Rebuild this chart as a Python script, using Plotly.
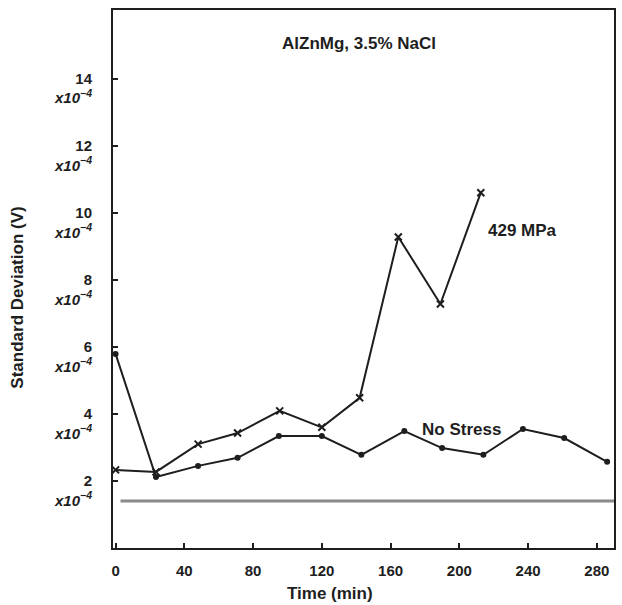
import plotly.graph_objects as go

# Data
t_stress = [0, 23.5, 48, 71, 95.5, 120, 142, 164.5, 189, 212.5]
v_stress = [2.33, 2.27, 3.1, 3.43, 4.09, 3.6, 4.48, 9.28, 7.28, 10.6]

t_none = [0, 23.5, 48, 71, 95, 120, 143, 168, 190, 214, 237, 261, 286]
v_none = [5.79, 2.12, 2.45, 2.69, 3.34, 3.34, 2.78, 3.49, 2.98, 2.78, 3.55, 3.28, 2.57]

x_ticks = [0, 40, 80, 120, 160, 200, 240, 280]
y_ticks = [2, 4, 6, 8, 10, 12, 14]
y_ticktext = [f"&nbsp;<br><b>{v}</b><br><b><i>x10<sup>−4</sup></i></b>" for v in y_ticks]

ref_line_level = 1.40  # grey horizontal band seen in the scan

FONT = "Liberation Sans, Arial, sans-serif"
INK = "#1e1e1e"

fig = go.Figure()

fig.add_trace(go.Scatter(
    x=t_stress, y=v_stress, mode="lines+markers", name="429 MPa",
    line=dict(color=INK, width=2),
    marker=dict(symbol="x-thin", size=7, line=dict(color=INK, width=2), color=INK),
))
fig.add_trace(go.Scatter(
    x=t_none, y=v_none, mode="lines+markers", name="No Stress",
    line=dict(color=INK, width=2),
    marker=dict(symbol="circle", size=6, color=INK),
))

fig.add_shape(type="line", xref="paper", yref="y", x0=0.015, x1=1.0,
              y0=ref_line_level, y1=ref_line_level,
              line=dict(color="#8a8a8a", width=3), layer="below")

fig.add_annotation(x=141.7, y=15.05, text="<b>AlZnMg, 3.5% NaCl</b>", showarrow=False,
                   font=dict(family=FONT, size=17, color=INK))
fig.add_annotation(x=237, y=9.46, text="<b>429 MPa</b>", showarrow=False,
                   font=dict(family=FONT, size=17, color=INK))
fig.add_annotation(x=201, y=3.55, text="<b>No Stress</b>", showarrow=False,
                   font=dict(family=FONT, size=17, color=INK))

fig.add_annotation(xref="paper", yref="paper", x=-0.19, y=0.465,
                   xanchor="center", yanchor="middle",
                   text="<b>Standard Deviation (V)</b>", textangle=-90, showarrow=False,
                   font=dict(family=FONT, size=17, color=INK))
fig.add_annotation(xref="paper", yref="paper", x=0.433, y=-0.084,
                   xanchor="center", yanchor="middle",
                   text="<b>Time (min)</b>", showarrow=False,
                   font=dict(family=FONT, size=17, color=INK))

fig.update_layout(
    width=622, height=605,
    margin=dict(l=113, r=6, t=10, b=57),
    paper_bgcolor="white", plot_bgcolor="white",
    showlegend=False,
    font=dict(family=FONT, size=12, color=INK),
)
fig.update_xaxes(
    range=[-1.5, 290], tickvals=x_ticks, ticktext=[f"<b>{v}</b>" for v in x_ticks],
    ticks="inside", ticklen=5, tickwidth=2, tickcolor=INK,
    showgrid=False, zeroline=False, showline=True, linecolor=INK, linewidth=2,
    mirror=True, ticklabelstandoff=8, tickfont=dict(family=FONT, size=15, color=INK),
)
fig.update_yaxes(
    range=[0, 16.05], tickvals=y_ticks, ticktext=y_ticktext,
    ticks="inside", ticklen=5, tickwidth=2, tickcolor=INK,
    showgrid=False, zeroline=False, showline=True, linecolor=INK, linewidth=2,
    mirror=True, ticklabelstandoff=16, tickfont=dict(family=FONT, size=15, color=INK),
)

fig.write_html("out.html")
